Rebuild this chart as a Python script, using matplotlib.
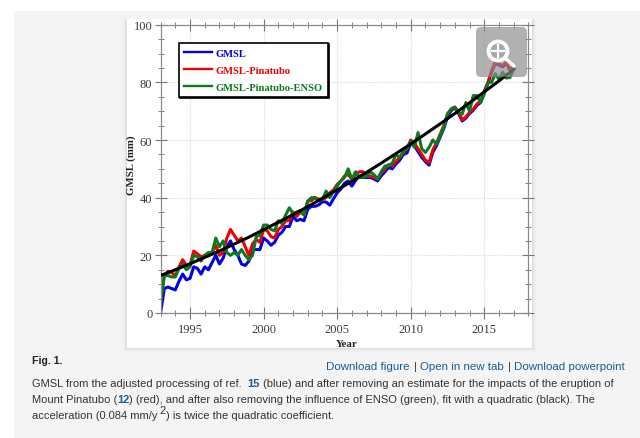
import numpy as np
import matplotlib
matplotlib.use("Agg")
import matplotlib.pyplot as plt
from matplotlib.patches import Rectangle, FancyBboxPatch, Circle
from matplotlib.ticker import MultipleLocator

# quarterly samples, 1993.00 to 2017.00
start_year = 1993.0
blue = [0, 8.5, 9, 8.5, 8, 11, 13.5, 11.5, 12, 16, 15.5, 13.5, 16, 15, 17.5, 20, 17, 19, 23, 25,
        22, 20, 17, 16.5, 18, 22, 22, 22, 26, 25, 23.5, 24.5, 27, 28, 30, 30, 33.5, 32, 32.5, 32,
        36, 37, 37, 37.5, 38.6, 38.5, 37.4, 39.6, 41.7, 43, 45, 45.8, 44, 46, 47.5, 47,
        47, 47, 46.5, 45.8, 47.6, 49, 50.5, 50, 51.7, 53, 55, 55.5, 59, 58, 56, 54,
        52.5, 51.3, 55.7, 58, 61, 64, 68, 70.2, 71.2, 69.2, 66.6, 67.6, 69.2, 70.3, 72, 73,
        76.6, 79.6, 83.6, 86.6, 86, 85.4, 86.6, 84.2, 85]
red = [4, 13, 14.5, 14, 13, 16, 18.5, 16.5, 16.5, 21.5, 20.5, 19.5, 20, 20, 21, 23.5, 20, 21, 26, 29,
       27, 25, 26, 23, 20, 24, 25.5, 24.5, 29, 28.5, 26.5, 26, 29, 30, 32, 32, 35, 33.5, 35, 34,
       38.8, 39, 40, 39.5, 39.4, 40, 41.7, 42.7, 44.6, 45.8, 47.5, 48, 46.4, 48, 49, 49,
       47.5, 47.5, 47, 46.4, 48.5, 50, 51.5, 51, 52.5, 54, 55.5, 57, 60, 59, 57, 55,
       53, 52.2, 56.5, 59, 62, 65, 69, 70.7, 71.5, 69.6, 67, 68, 69.6, 70.7, 72.5, 73.4,
       77, 80, 84, 87, 86.4, 85.8, 87, 84.6, 85.4]
green = [3.5, 13, 13, 12.5, 12.5, 15.5, 17, 15, 16, 20, 19.5, 18, 20, 21, 21, 26, 23, 25, 21, 20,
         21, 20, 22, 20, 18.5, 20, 26.5, 27, 30.5, 30.5, 29, 28.5, 32, 31, 34, 36.5, 34.5, 35, 35.5, 34,
         38.8, 40, 40, 39, 39.4, 42.3, 40, 42.3, 44, 45.8, 47, 50, 46.4, 49, 47, 47,
         47.5, 49, 48, 46.5, 49, 51, 51, 52, 55, 54, 56, 57, 59.5, 57.5, 62.6, 57,
         55.7, 57.5, 60, 58.6, 61.5, 64.4, 69, 70.8, 71.3, 69.6, 69, 73, 70, 75.4, 75.4, 73,
         76, 80, 80, 83, 81, 83.5, 81.5, 81.7, 84.6]
# quadratic fit read once a year, 1993 to 2017
fit = [13, 15.0, 17.1, 19.3, 21.5, 23.9, 26.3, 28.9, 31.5, 34.1, 36.9, 39.8, 42.7, 45.7, 48.8,
       52, 55.3, 58.6, 62.1, 65.6, 69.2, 72.9, 76.7, 80.5, 84.5]
series_labels = ["GMSL", "GMSL-Pinatubo", "GMSL-Pinatubo-ENSO"]
x_ticks = [1995, 2000, 2005, 2010, 2015]
y_ticks = [0, 20, 40, 60, 80, 100]

W, H = 640, 439
fig = plt.figure(figsize=(W / 100, H / 100), dpi=100, facecolor="white")
bg = fig.add_axes([0, 0, 1, 1], zorder=0)
bg.set_xlim(0, W); bg.set_ylim(H, 0); bg.axis("off")
bg.add_patch(Rectangle((14, 12), W - 14, H - 12, fc="#f4f4f4", ec="none"))
for i, a in enumerate([0.012, 0.018, 0.025, 0.03]):
    d = 4 - i
    bg.add_patch(Rectangle((127 - d, 20), 405 + 2 * d, 329 + d, fc="black", alpha=a, ec="none"))
bg.add_patch(Rectangle((127, 20), 405, 329, fc="white", ec="none"))

L, R, T, B = 160.6, 528.4, 25.7, 314.0
ax = fig.add_axes([L / W, 1 - B / H, (R - L) / W, (B - T) / H], zorder=1)
ax.patch.set_alpha(0)
ax.set_xlim(1993, 2018); ax.set_ylim(0, 100)
serif = "Liberation Serif"
tc = "#3a3a3a"
ax.xaxis.set_major_locator(plt.FixedLocator(x_ticks))
ax.yaxis.set_major_locator(plt.FixedLocator(y_ticks))
ax.xaxis.set_minor_locator(MultipleLocator(1))
ax.yaxis.set_minor_locator(MultipleLocator(5))
ax.tick_params(which="major", direction="inout", length=8, width=0.8, color="#777777",
               top=True, right=True, labelsize=9, labelcolor=tc, pad=2)
ax.tick_params(which="minor", direction="inout", length=5, width=0.7, color="#808080", top=True, right=True)
for lab in ax.get_xticklabels() + ax.get_yticklabels():
    lab.set_family(serif)
ax.tick_params(axis="x", which="major", pad=3)
for s in ax.spines.values():
    s.set_linewidth(0.9); s.set_color("#8a8a8a")
ax.grid(True, which="major", color="#dcdcdc", lw=0.8, ls=(0, (1, 1)))
ax.set_axisbelow(True)

t = start_year + 0.25 * np.arange(len(blue))
ax.plot(t, blue, color="#0000e6", lw=2.2, label=series_labels[0], solid_joinstyle="round")
ax.plot(t, red, color="#f00000", lw=2.2, label=series_labels[1], solid_joinstyle="round")
ax.plot(t, green, color="#0a7a1e", lw=2.2, label=series_labels[2], solid_joinstyle="round")
ax.plot(start_year + np.arange(len(fit)), fit, color="black", lw=2.2, zorder=5)

leg = ax.legend(loc="upper left", bbox_to_anchor=((179 - L) / (R - L), 1 - (44 - T) / (B - T)),
                borderaxespad=0, frameon=True, fancybox=False, framealpha=1, edgecolor="black",
                labelcolor="linecolor", prop={"family": serif, "weight": "bold", "size": 7.6},
                handlelength=2.6, handletextpad=0.35, labelspacing=0.72, borderpad=0.5,
                shadow={"color": "black", "alpha": 1, "ox": 1, "oy": -1})
leg.get_frame().set_linewidth(1.2)
leg.set_zorder(6)
for h in leg.get_lines():
    h.set_linewidth(1.7)

fg = fig.add_axes([0, 0, 1, 1], zorder=3)
fg.set_xlim(0, W); fg.set_ylim(H, 0); fg.axis("off"); fg.patch.set_alpha(0)
fg.text(131, 165, "GMSL (mm)", rotation=90, family=serif, weight="bold", size=7.8, color="#222222",
        ha="center", va="center")
fg.text(347, 345, "Year", family=serif, weight="bold", size=7.8, color="#222222", ha="center", va="center")

# zoom icon
fg.add_patch(FancyBboxPatch((479, 31), 45, 44, boxstyle="round,pad=3,rounding_size=5",
                            fc="#8c8c8c", alpha=0.68, ec="none"))
fg.plot([505, 514], [59, 67], color="white", lw=2.6, solid_capstyle="round")
fg.add_patch(Circle((498, 52), 9.5, fc="#a8a8a8", ec="white", lw=2.8))
fg.plot([492, 504], [52, 52], color="white", lw=1.6)
fg.plot([498, 498], [46, 58], color="white", lw=1.6)

sans = "Liberation Sans"
cap = "#333333"
link = "#1f5c8f"
fg.text(32, 361, "Fig. 1.", family=sans, weight="bold", size=7.6, color="#222222", va="center")
fl = 8.25
fs = 8.05
fg.text(326, 367, "Download figure", family=sans, size=fl, color=link, va="center")
fg.text(415, 367, "|", family=sans, size=fl, color="#333333", va="center", ha="center")
fg.text(420, 367, "Open in new tab", family=sans, size=fl, color=link, va="center")
fg.text(509, 367, "|", family=sans, size=fl, color="#333333", va="center", ha="center")
fg.text(514, 367, "Download powerpoint", family=sans, size=fl, color=link, va="center")
fg.text(32, 384, "GMSL from the adjusted processing of ref.", family=sans, size=fs, color=cap, va="center")
fg.text(247, 384, "15", family=sans, size=fs, weight="bold", color=link, va="center")
fg.text(263, 384, "(blue) and after removing an estimate for the impacts of the eruption of", family=sans, size=fs, color=cap, va="center")
fg.text(32, 400, "Mount Pinatubo (", family=sans, size=fs, color=cap, va="center")
fg.text(117, 400, "12", family=sans, size=fs, weight="bold", color=link, va="center")
fg.text(129, 400, ") (red), and after also removing the influence of ENSO (green), fit with a quadratic (black). The", family=sans, size=fs, color=cap, va="center")
fg.text(32, 416, "acceleration (0.084 mm/y", family=sans, size=fs, color=cap, va="center")
fg.text(159, 411, "2", family=sans, size=fs, color=cap, va="center")
fg.text(166, 416, ") is twice the quadratic coefficient.", family=sans, size=fs, color=cap, va="center")

fig.savefig("out.png", dpi=100)
